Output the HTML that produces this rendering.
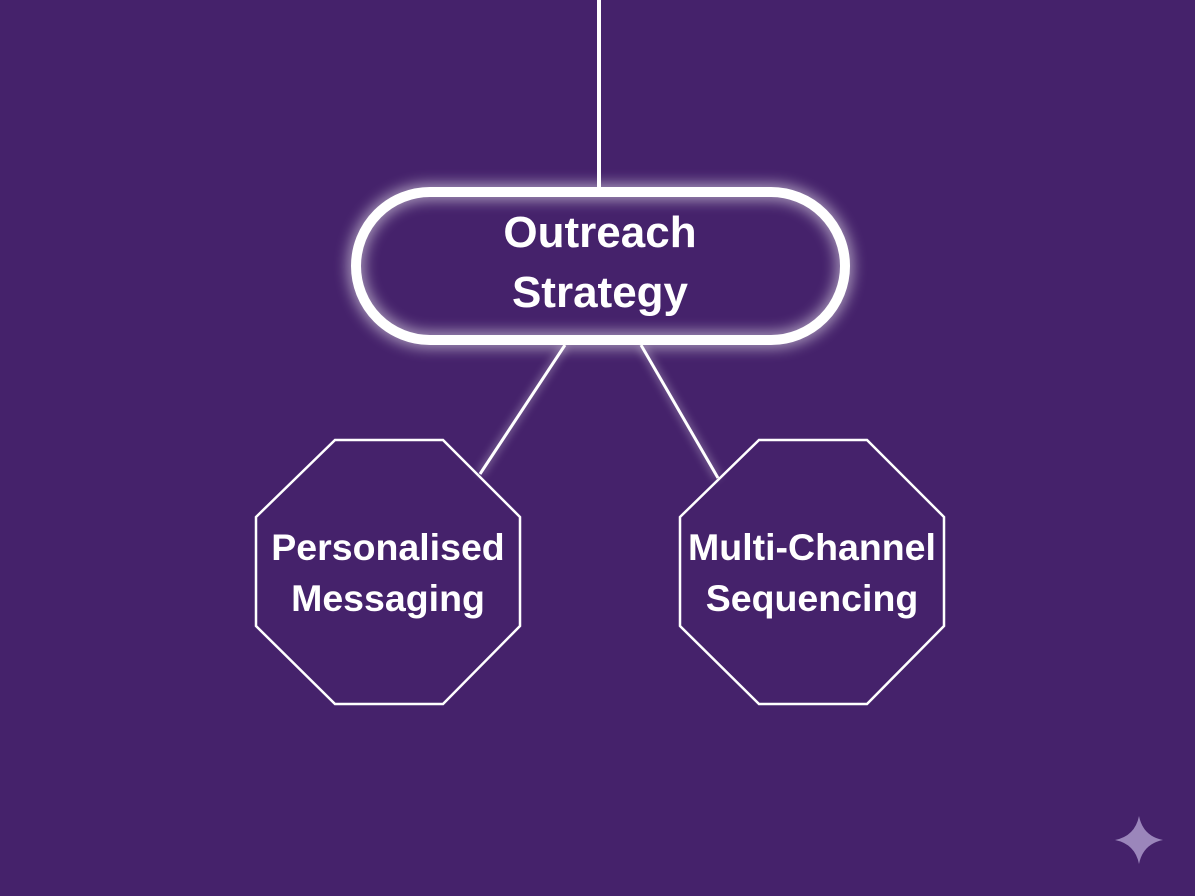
<!DOCTYPE html>
<html><head><style>
html,body{margin:0;padding:0;background:#45226b;}
svg{display:block}
</style></head><body>
<svg width="1195" height="896" viewBox="0 0 1195 896" xmlns="http://www.w3.org/2000/svg">
<defs>
<filter id="g" x="-30%" y="-50%" width="160%" height="200%"><feGaussianBlur stdDeviation="7"/></filter>
<filter id="g2" x="-50%" y="-50%" width="200%" height="200%"><feGaussianBlur stdDeviation="4"/></filter>
</defs>
<rect width="1195" height="896" fill="#45226b"/>
<g stroke="#fff" fill="none">
<line x1="565" y1="345" x2="480" y2="474" stroke-width="8" opacity="0.25" filter="url(#g2)"/>
<line x1="641" y1="345" x2="718" y2="478" stroke-width="8" opacity="0.25" filter="url(#g2)"/>
<line x1="565" y1="345" x2="480" y2="474" stroke-width="3"/>
<line x1="641" y1="345" x2="718" y2="478" stroke-width="3"/>
<line x1="599" y1="0" x2="599" y2="190" stroke-width="10" opacity="0.3" filter="url(#g2)"/>
<line x1="599" y1="0" x2="599" y2="190" stroke-width="4"/>
<rect x="356" y="192" width="489" height="148" rx="74" stroke-width="16" opacity="0.55" filter="url(#g)"/>
<rect x="356" y="192" width="489" height="148" rx="74" stroke-width="10"/>
<polygon points="335,440 443,440 520,517 520,626 443,704 335,704 256,626 256,517" stroke-width="2.5"/>
<polygon points="759,440 867,440 944,517 944,626 867,704 759,704 680,626 680,517" stroke-width="2.5"/>
</g>
<g fill="#fff" font-family="Liberation Sans, sans-serif" font-weight="bold" text-anchor="middle">
<text x="600" y="247" font-size="44">Outreach</text>
<text x="600" y="307" font-size="44">Strategy</text>
<text x="388" y="560" font-size="37.5">Personalised</text>
<text x="388" y="611" font-size="37.5">Messaging</text>
<text x="812" y="560" font-size="37.5">Multi-Channel</text>
<text x="812" y="611" font-size="37.5">Sequencing</text>
</g>
<path d="M1139,816 Q1143,836 1163,840 Q1143,844 1139,864 Q1135,844 1115,840 Q1135,836 1139,816Z" fill="#9b86bb"/>
</svg>
</body></html>
